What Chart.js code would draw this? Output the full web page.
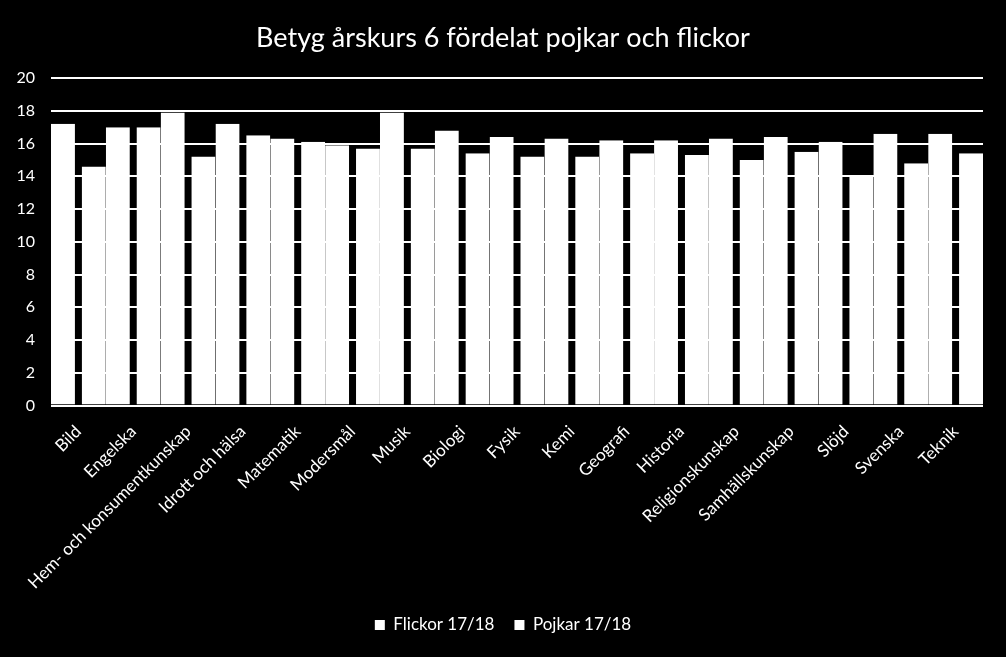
<!DOCTYPE html>
<html>
<head>
<meta charset="utf-8">
<script src="https://cdn.jsdelivr.net/npm/chart.js@4/dist/chart.umd.min.js"></script>
<style>
  html, body { margin: 0; padding: 0; background: #000; }
  #wrap { width: 1006px; height: 657px; }
</style>
</head>
<body>
<div id="wrap"><canvas id="c" width="1006" height="657"></canvas></div>
<script>
const categories = ["Bild", "Engelska", "Hem- och konsumentkunskap", "Idrott och hälsa", "Matematik", "Modersmål", "Musik", "Biologi", "Fysik", "Kemi", "Geografi", "Historia", "Religionskunskap", "Samhällskunskap", "Slöjd", "Svenska", "Teknik"];
const flickor = [17.2, 17.0, 17.9, 17.2, 16.3, 15.9, 17.9, 16.8, 16.4, 16.3, 16.2, 16.2, 16.3, 16.4, 16.1, 16.6, 16.6];
const pojkar  = [14.6, 17.0, 15.2, 16.5, 16.1, 15.7, 15.7, 15.4, 15.2, 15.2, 15.4, 15.3, 15.0, 15.5, 14.0, 14.8, 15.4];
const seriesNames = ["Flickor 17/18", "Pojkar 17/18"];
const yTicks = { min: 0, max: 20, step: 2 };
const titleText = "Betyg årskurs 6 fördelat pojkar och flickor";

const FONT = "Lato, 'Liberation Sans', sans-serif";
Chart.defaults.font.family = FONT;
Chart.defaults.color = "#fff";

new Chart(document.getElementById("c"), {
  type: "bar",
  data: {
    labels: categories,
    datasets: [
      {
        label: seriesNames[0],
        data: flickor,
        backgroundColor: "#fff",
        borderColor: "rgba(0,0,0,0)",
        borderWidth: { left: 0, right: 3.5, top: 0, bottom: 0 },
        inflateAmount: 0
      },
      {
        label: seriesNames[1],
        data: pojkar,
        backgroundColor: "#fff",
        borderColor: "rgba(0,0,0,0)",
        borderWidth: { left: 3.5, right: 0, top: 0, bottom: 0 },
        inflateAmount: 0
      }
    ]
  },
  options: {
    responsive: false,
    animation: false,
    events: [],
    layout: { padding: { left: 12, right: 12, top: 0, bottom: 13.5 } },
    datasets: { bar: { barPercentage: 1, categoryPercentage: 1 } },
    plugins: {
      tooltip: { enabled: false },
      title: {
        display: true,
        text: titleText,
        color: "#fff",
        font: { size: 27, weight: "normal", family: FONT },
        padding: { top: 21.8, bottom: 23.8 }
      },
      legend: {
        position: "bottom",
        labels: {
          color: "#fff",
          boxWidth: 10,
          boxHeight: 10,
          padding: 20,
          font: { size: 17, family: FONT },
          generateLabels: (chart) => Chart.defaults.plugins.legend.labels.generateLabels(chart)
            .map(l => Object.assign(l, { fillStyle: "#fff", strokeStyle: "#fff", lineWidth: 0 }))
        }
      }
    },
    scales: {
      x: {
        grid: { display: false, drawTicks: false },
        border: { display: false },
        ticks: {
          color: "#fff",
          font: { size: 17, family: FONT },
          maxRotation: 45,
          minRotation: 45,
          autoSkip: false,
          padding: 16
        },
        afterFit: (s) => { s.height = 191; }
      },
      y: {
        min: yTicks.min,
        max: yTicks.max,
        grid: { color: "#fff", lineWidth: 2, drawTicks: false },
        border: { display: false },
        ticks: {
          stepSize: yTicks.step,
          color: "#fff",
          font: { size: 16, family: FONT },
          padding: 16
        },
        afterFit: (s) => { s.width = 39; }
      },
      yR: {
        position: "right",
        display: true,
        grid: { display: false, drawTicks: false },
        border: { display: false },
        ticks: { display: false },
        afterFit: (s) => { s.width = 11; }
      }
    }
  }
});
</script>
</body>
</html>
